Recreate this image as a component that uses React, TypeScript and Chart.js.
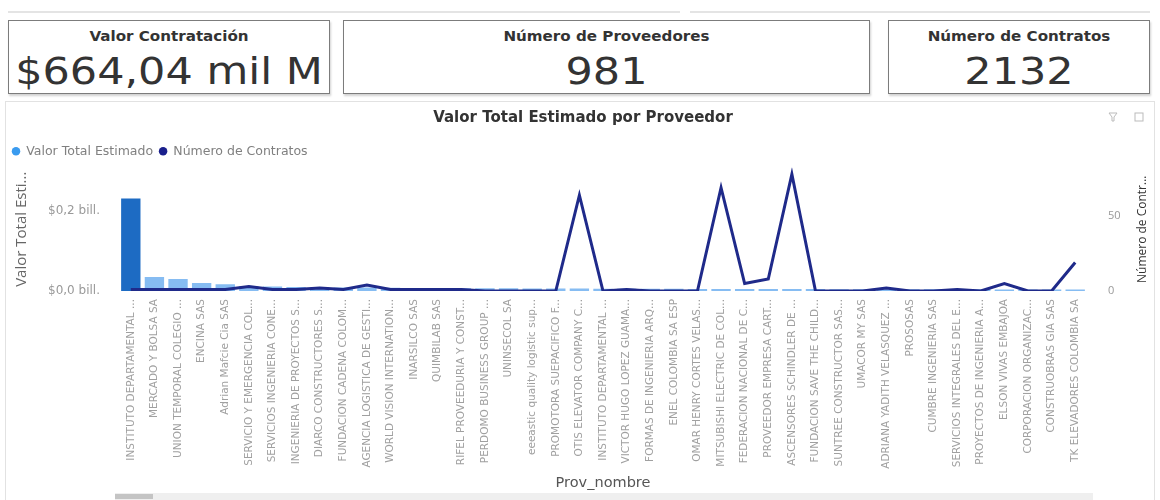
import React, { useEffect, useRef } from "react";
import { Chart, registerables } from "chart.js";

Chart.register(...registerables);

const proveedores = [
  "INSTITUTO DEPARTAMENTAL ...",
  "MERCADO Y BOLSA SA",
  "UNION TEMPORAL COLEGIO ...",
  "ENCINA SAS",
  "Adrian Mafcie Cia SAS",
  "SERVICIO Y EMERGENCIA COL...",
  "SERVICIOS INGENIERIA CONE...",
  "INGENIERIA DE PROYECTOS S...",
  "DIARCO CONSTRUCTORES S...",
  "FUNDACION CADENA COLOM...",
  "AGENCIA LOGISTICA DE GESTI...",
  "WORLD VISION INTERNATION...",
  "INARSILCO SAS",
  "QUIMBILAB SAS",
  "RIFEL PROVEEDURIA Y CONST...",
  "PERDOMO BUSINESS GROUP ...",
  "UNINSECOL SA",
  "eeeastic quality logistic sup...",
  "PROMOTORA SUEPACIFICO F...",
  "OTIS ELEVATOR COMPANY C...",
  "INSTITUTO DEPARTAMENTAL ...",
  "VICTOR HUGO LOPEZ GUAMA...",
  "FORMAS DE INGENIERIA ARQ...",
  "ENEL COLOMBIA SA ESP",
  "OMAR HENRY CORTES VELAS...",
  "MITSUBISHI ELECTRIC DE COL...",
  "FEDERACION NACIONAL DE C...",
  "PROVEEDOR EMPRESA CART...",
  "ASCENSORES SCHINDLER DE ...",
  "FUNDACION SAVE THE CHILD...",
  "SUNTREE CONSTRUCTOR SAS...",
  "UMACOR MY SAS",
  "ADRIANA YADITH VELASQUEZ ...",
  "PROSOSAS",
  "CUMBRE INGENIERIA SAS",
  "SERVICIOS INTEGRALES DEL E...",
  "PROYECTOS DE INGENIERIA A...",
  "ELSON VIVAS EMBAJOA",
  "CORPORACION ORGANIZAC...",
  "CONSTRUOBRAS GIA SAS",
  "TK ELEVADORES COLOMBIA SA",
];

// Valor Total Estimado (COP)
const valorTotalEstimado = [
  232e9, 35e9, 30e9, 20e9, 17e9, 12e9, 11e9, 10e9, 9.5e9, 9e9,
  8.5e9, 8e9, 7.8e9, 7.5e9, 7e9, 6.8e9, 6.6e9, 6.4e9, 6.2e9, 6e9,
  5.8e9, 5.6e9, 5.5e9, 5.4e9, 5.3e9, 5.2e9, 5.1e9, 5e9, 4.9e9, 4.8e9,
  4.7e9, 4.6e9, 4.5e9, 4.4e9, 4.3e9, 4.2e9, 4.1e9, 4e9, 3.9e9, 3.8e9,
  3.7e9,
];

// Número de Contratos
const numeroContratos = [
  1, 1, 1, 1, 1, 3, 1, 1, 2, 1,
  4, 1, 1, 1, 1, 0, 0, 0, 0, 64,
  0, 1, 0, 0, 0, 69, 5, 8, 78, 0,
  0, 0, 2, 0, 0, 1, 0, 5, 0, 0,
  19,
];

const valorTicks = [0, 0.2e12];
const contratosTicks = [0, 50];

const kpiTitles = ["Valor Contratación", "Número de Proveedores", "Número de Contratos"];
const kpiValues = ["$664,04 mil M", "981", "2132"];

const chartTitle = "Valor Total Estimado por Proveedor";
const seriesNames = ["Valor Total Estimado", "Número de Contratos"];
const axisTitles = ["Prov_nombre", "Valor Total Esti...", "Número de Contr..."];
const legendColors = ["#3a9bef", "#1a1f8c"];

const FONT = "'Open Sans', 'Noto Sans', sans-serif";
const WIDE = "'DejaVu Sans', sans-serif";

function fmtBill(v: number) {
  return "$" + (v / 1e12).toFixed(1).replace(".", ",") + " bill.";
}

const rightTitlePlugin = {
  id: "rightTitle",
  afterDraw(chart: any) {
    const { ctx, chartArea } = chart;
    ctx.save();
    ctx.translate(1143, (chartArea.top + chartArea.bottom) / 2);
    ctx.rotate(-Math.PI / 2);
    ctx.font = `12px ${FONT}`;
    ctx.fillStyle = "#333";
    ctx.textAlign = "center";
    ctx.textBaseline = "middle";
    ctx.fillText(axisTitles[2], 0, 0);
    ctx.restore();
  },
};

export default function App() {
  const ref = useRef<HTMLCanvasElement>(null);

  useEffect(() => {
    const canvas = ref.current!;
    const chart = new Chart(canvas, {
      type: "bar",
      data: {
        labels: proveedores,
        datasets: [
          {
            type: "bar",
            label: seriesNames[0],
            data: valorTotalEstimado,
            yAxisID: "y",
            backgroundColor: valorTotalEstimado.map((_, i) => (i === 0 ? "#1d6bc3" : "#86bcf2")),
            categoryPercentage: 1,
            barPercentage: 0.82,
            order: 2,
          },
          {
            type: "line",
            label: seriesNames[1],
            data: numeroContratos,
            yAxisID: "y1",
            borderColor: "#1f2a8a",
            backgroundColor: "#1f2a8a",
            borderWidth: 3,
            pointRadius: 0,
            tension: 0,
            order: 1,
          },
        ],
      } as any,
      plugins: [rightTitlePlugin],
      options: {
        responsive: false,
        animation: false,
        layout: { padding: { left: 6, top: 0, right: 0, bottom: 0 } },
        plugins: {
          title: {
            display: true,
            text: chartTitle,
            color: "#333",
            font: { family: WIDE, size: 15, weight: "bold" },
            padding: { top: 9, bottom: 12 },
          },
          legend: {
            position: "top",
            align: "start",
            labels: {
              usePointStyle: true,
              pointStyle: "circle",
              boxWidth: 8,
              boxHeight: 6,
              padding: 6,
              color: "#808080",
              font: { family: WIDE, size: 12.5 },
              sort: (a: any, b: any) => a.datasetIndex - b.datasetIndex,
              generateLabels: (c: any) =>
                (Chart.defaults.plugins.legend.labels.generateLabels as any)(c).map((it: any) => ({
                  ...it,
                  fillStyle: legendColors[it.datasetIndex],
                  strokeStyle: legendColors[it.datasetIndex],
                  lineWidth: 0,
                })),
            },
          },
          tooltip: { enabled: false },
        },
        scales: {
          x: {
            grid: { display: false, drawTicks: false },
            border: { display: false },
            ticks: {
              autoSkip: false,
              maxRotation: 90,
              minRotation: 90,
              padding: 8,
              color: "#a0a0a0",
              font: { family: WIDE, size: 10.5 },
            },
            title: {
              display: true,
              text: axisTitles[0],
              color: "#555",
              font: { family: WIDE, size: 14.5 },
              padding: { top: 4, bottom: 8 },
            },
            afterFit: (s: any) => {
              s.height = 209;
            },
          },
          y: {
            position: "left",
            min: 0,
            max: 0.31e12,
            grid: { display: false, drawTicks: false },
            border: { display: false },
            afterBuildTicks: (s: any) => {
              s.ticks = valorTicks.map((v) => ({ value: v }));
            },
            ticks: {
              padding: 19,
              color: "#999",
              font: { family: WIDE, size: 12 },
              callback: (v: any) => fmtBill(Number(v)),
            },
            title: {
              display: true,
              text: axisTitles[1],
              color: "#666",
              font: { family: FONT, size: 15 },
              padding: { top: 7, bottom: 0 },
            },
            afterFit: (s: any) => {
              s.width = 113;
            },
          },
          y1: {
            position: "right",
            min: 0,
            max: 82.5,
            grid: { display: false, drawTicks: false },
            border: { display: false },
            afterBuildTicks: (s: any) => {
              s.ticks = contratosTicks.map((v) => ({ value: v }));
            },
            ticks: {
              padding: 21,
              color: "#999",
              font: { family: FONT, size: 11 },
            },
            title: { display: false },
            afterFit: (s: any) => {
              s.width = 73;
            },
          },
        },
      } as any,
    });
    return () => chart.destroy();
  }, []);

  const cards = [
    { left: 8, width: 322 },
    { left: 343, width: 527 },
    { left: 888, width: 262 },
  ];

  return (
    <div
      style={{
        position: "absolute",
        left: 0,
        top: 0,
        width: 1160,
        height: 500,
        background: "#fff",
        overflow: "hidden",
        fontFamily: FONT,
      }}
    >
      <div style={{ position: "absolute", left: 8, top: 11, width: 672, height: 2, background: "#e4e4e4" }} />
      <div style={{ position: "absolute", left: 690, top: 11, width: 460, height: 2, background: "#e4e4e4" }} />

      {cards.map((c, i) => (
        <div
          key={i}
          style={{
            position: "absolute",
            left: c.left,
            top: 20,
            width: c.width,
            height: 74,
            boxSizing: "border-box",
            border: "1.5px solid #7c7c7c",
            boxShadow: "1px 2px 2px rgba(0,0,0,0.18)",
            background: "#fff",
          }}
        >
          <div
            style={{
              position: "absolute",
              left: 0,
              right: 0,
              top: 6,
              height: 18,
              lineHeight: "18px",
              textAlign: "center",
              fontFamily: WIDE,
              fontWeight: "bold",
              fontSize: 14,
              color: "#333",
              whiteSpace: "nowrap",
              transform: "scaleX(1.08)",
              transformOrigin: "center",
            }}
          >
            {kpiTitles[i]}
          </div>
          <div
            style={{
              position: "absolute",
              left: 0,
              right: 0,
              top: 28,
              height: 44,
              lineHeight: "44px",
              textAlign: "center",
              fontFamily: WIDE,
              fontSize: 38,
              color: "#333",
              whiteSpace: "nowrap",
              transform: "scaleX(1.13)",
              transformOrigin: "center",
            }}
          >
            {kpiValues[i]}
          </div>
        </div>
      ))}

      <div
        style={{
          position: "absolute",
          left: 5,
          top: 101,
          width: 1150,
          height: 420,
          boxSizing: "border-box",
          border: "1px solid #e2e2e2",
        }}
      />

      <canvas
        ref={ref}
        width={1160}
        height={400}
        style={{ position: "absolute", left: 0, top: 100, width: 1160, height: 400 }}
      />

      <svg style={{ position: "absolute", left: 1108, top: 111 }} width={40} height={14}>
        <path d="M1 2 L9 2 L6 6 L6 10 L4 10 L4 6 Z" fill="none" stroke="#bbb" strokeWidth={1} />
        <rect x={27} y={2} width={8} height={8} fill="none" stroke="#bbb" strokeWidth={1} />
      </svg>

      <div style={{ position: "absolute", left: 115, top: 493, width: 978, height: 7, background: "#efefef" }} />
      <div style={{ position: "absolute", left: 115, top: 494, width: 38, height: 5, background: "#c4c4c4" }} />
    </div>
  );
}
